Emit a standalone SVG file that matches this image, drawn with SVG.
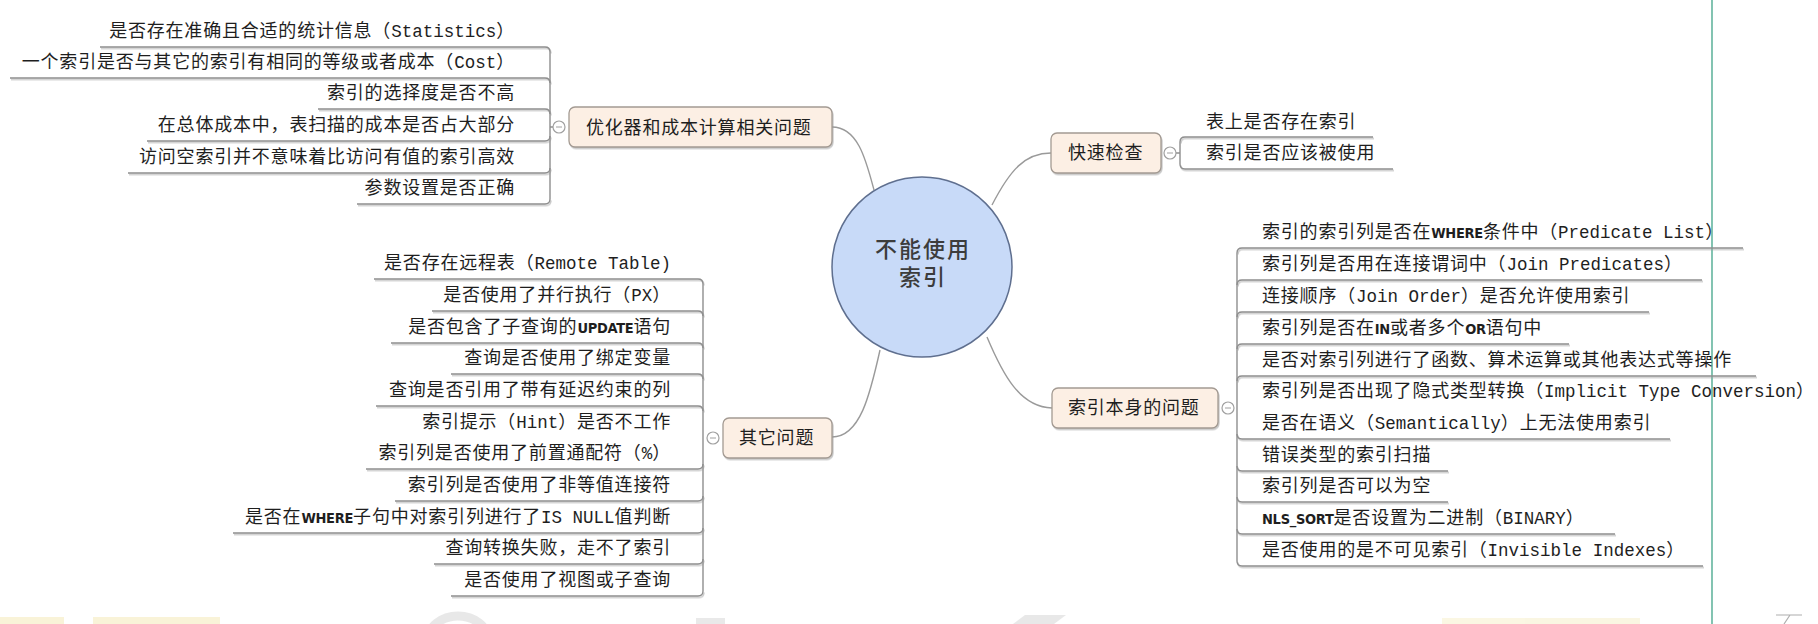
<svg xmlns="http://www.w3.org/2000/svg" width="1818" height="624" viewBox="0 0 1818 624">
<defs>
<filter id="sh" x="-5%" y="-50%" width="110%" height="300%">
<feDropShadow dx="1" dy="1.5" stdDeviation="0.7" flood-color="#9a9a9a" flood-opacity="0.55"/>
</filter>
</defs>
<style>
.t{font-family:"Noto Sans CJK SC","Noto Sans",sans-serif;font-size:18px;letter-spacing:0.8px;fill:#1e1e1e}
.m{font-family:"Liberation Mono",monospace;font-size:17.5px;letter-spacing:0}
.w{font-family:"DejaVu Sans","Liberation Sans",sans-serif;font-stretch:condensed;font-size:14.5px;font-weight:bold;letter-spacing:-0.3px}
.ul{fill:none;stroke:#8e8e8e;stroke-width:1.4;filter:url(#sh)}
.br{fill:none;stroke:#8e8e8e;stroke-width:1.4}
.box{fill:#fcefe4;stroke:#a39a92;stroke-width:1.3;filter:url(#sh)}
.col{fill:#fff;stroke:#a0a0a0;stroke-width:1.2}
.cn{fill:none;stroke:#9a9a9a;stroke-width:1.4}
.ctr{font-family:"Noto Sans CJK SC","Noto Sans",sans-serif;font-size:22px;font-weight:500;letter-spacing:2px;fill:#3c3c3c;text-anchor:middle}
</style>
<rect width="1818" height="624" fill="#fff"/>
<g id="watermark" opacity="0.8">
<rect x="0" y="617" width="64" height="7" fill="#f8f1cf"/>
<rect x="93" y="617" width="127" height="7" fill="#f8f1cf"/>
<ellipse cx="458" cy="640" rx="30" ry="24" fill="none" stroke="#e2e2e2" stroke-width="9"/>
<rect x="696" y="618" width="29" height="6" fill="#e4e4e4"/>
<polygon points="1025,615 1066,615 1054,624 1013,624" fill="#e2e2e2"/>
<rect x="1442" y="618" width="198" height="6" fill="#faf5dc"/>
<path d="M1776,615 H1802 M1790,615 L1784,624" stroke="#9a9a9a" stroke-width="1.2" fill="none"/>
</g>
<line x1="1712" y1="0" x2="1712" y2="624" stroke="#2f9c7e" stroke-width="1.2"/>

<g id="connectors">
<path class="cn" d="M832,127 C858,127 866,160 874,190"/>
<path class="cn" d="M992,205 C1010,170 1025,153 1051,153"/>
<path class="cn" d="M987,337 C1003,375 1020,407 1052,408"/>
<path class="cn" d="M880,350 C870,395 860,437 832,437"/>
</g>

<g id="center">
<circle cx="922" cy="267" r="90" fill="#c8daf8" stroke="#5f6f8f" stroke-width="1.5"/>
<text class="ctr" x="923" y="257">不能使用<tspan x="923" dy="28">索引</tspan></text>
</g>

<g id="topic-optimizer">
<rect class="box" x="569" y="107" width="263" height="40" rx="6"/>
<text class="t" x="586" y="134">优化器和成本计算相关问题</text>
<path class="br" d="M550,52 V199 M550,127 H553"/>
<circle class="col" cx="559" cy="127" r="6"/>
<line x1="556" y1="127" x2="562" y2="127" stroke="#a0a0a0" stroke-width="1"/>
</g>
<g id="opt-children">
<path class="ul" d="M100,47 H545 Q550,47 550,52"/>
<path class="ul" d="M10,78 H545 Q550,78 550,83"/>
<path class="ul" d="M318,109 H545 Q550,109 550,114"/>
<path class="ul" d="M147,141 H545 Q550,141 550,136"/>
<path class="ul" d="M128,173 H545 Q550,173 550,168"/>
<path class="ul" d="M357,204 H545 Q550,204 550,199"/>
<text class="t" x="515" y="37" text-anchor="end">是否存在准确且合适的统计信息（<tspan class="m">Statistics</tspan>）</text>
<text class="t" x="515" y="68" text-anchor="end">一个索引是否与其它的索引有相同的等级或者成本（<tspan class="m">Cost</tspan>）</text>
<text class="t" x="515" y="99" text-anchor="end">索引的选择度是否不高</text>
<text class="t" x="515" y="131" text-anchor="end">在总体成本中，表扫描的成本是否占大部分</text>
<text class="t" x="515" y="163" text-anchor="end">访问空索引并不意味着比访问有值的索引高效</text>
<text class="t" x="515" y="194" text-anchor="end">参数设置是否正确</text>
</g>

<g id="topic-other">
<rect class="box" x="723" y="418" width="109" height="40" rx="6"/>
<text class="t" x="739" y="444">其它问题</text>
<path class="br" d="M703,284 V591"/>
<circle class="col" cx="713" cy="438" r="6"/>
<line x1="710" y1="438" x2="716" y2="438" stroke="#a0a0a0" stroke-width="1"/>
</g>
<g id="other-children">
<path class="ul" d="M374,279 H698 Q703,279 703,284"/>
<path class="ul" d="M432,311 H698 Q703,311 703,316"/>
<path class="ul" d="M391,343 H698 Q703,343 703,348"/>
<path class="ul" d="M451,374 H698 Q703,374 703,379"/>
<path class="ul" d="M376,406 H698 Q703,406 703,411"/>
<path class="ul" d="M411,438 H707"/>
<path class="ul" d="M366,469 H698 Q703,469 703,464"/>
<path class="ul" d="M395,501 H698 Q703,501 703,496"/>
<path class="ul" d="M233,533 H698 Q703,533 703,528"/>
<path class="ul" d="M434,564 H698 Q703,564 703,559"/>
<path class="ul" d="M451,596 H698 Q703,596 703,591"/>
<text class="t" x="671" y="269" text-anchor="end">是否存在远程表（<tspan class="m">Remote Table)</tspan></text>
<text class="t" x="671" y="301" text-anchor="end">是否使用了并行执行（<tspan class="m">PX</tspan>）</text>
<text class="t" x="671" y="333" text-anchor="end">是否包含了子查询的<tspan class="w">UPDATE</tspan>语句</text>
<text class="t" x="671" y="364" text-anchor="end">查询是否使用了绑定变量</text>
<text class="t" x="671" y="396" text-anchor="end">查询是否引用了带有延迟约束的列</text>
<text class="t" x="671" y="428" text-anchor="end">索引提示（<tspan class="m">Hint</tspan>）是否不工作</text>
<text class="t" x="671" y="459" text-anchor="end">索引列是否使用了前置通配符（<tspan class="m">%</tspan>）</text>
<text class="t" x="671" y="491" text-anchor="end">索引列是否使用了非等值连接符</text>
<text class="t" x="671" y="523" text-anchor="end">是否在<tspan class="w">WHERE</tspan>子句中对索引列进行了<tspan class="m">IS NULL</tspan>值判断</text>
<text class="t" x="671" y="554" text-anchor="end">查询转换失败，走不了索引</text>
<text class="t" x="671" y="586" text-anchor="end">是否使用了视图或子查询</text>
</g>

<g id="topic-quick">
<rect class="box" x="1051" y="133" width="110" height="40" rx="6"/>
<text class="t" x="1068" y="159">快速检查</text>
<path class="br" d="M1180,142 V164 M1176,153 H1180"/>
<circle class="col" cx="1170" cy="153" r="6"/>
<line x1="1167" y1="153" x2="1173" y2="153" stroke="#a0a0a0" stroke-width="1"/>
</g>
<g id="quick-children">
<path class="ul" d="M1180,142 Q1180,137 1185,137 H1373"/>
<path class="ul" d="M1180,164 Q1180,169 1185,169 H1393"/>
<text class="t" x="1206" y="128">表上是否存在索引</text>
<text class="t" x="1206" y="159">索引是否应该被使用</text>
</g>

<g id="topic-index">
<rect class="box" x="1052" y="388" width="166" height="40" rx="6"/>
<text class="t" x="1068" y="414">索引本身的问题</text>
<path class="br" d="M1237,253 V561"/>
<circle class="col" cx="1228" cy="408" r="6"/>
<line x1="1225" y1="408" x2="1231" y2="408" stroke="#a0a0a0" stroke-width="1"/>
</g>
<g id="index-children">
<path class="ul" d="M1237,253 Q1237,248 1242,248 H1743"/>
<path class="ul" d="M1237,285 Q1237,280 1242,280 H1702"/>
<path class="ul" d="M1237,317 Q1237,312 1242,312 H1649"/>
<path class="ul" d="M1237,349 Q1237,344 1242,344 H1569"/>
<path class="ul" d="M1237,381 Q1237,376 1242,376 H1756"/>
<path class="ul" d="M1234,407 H1818"/>
<path class="ul" d="M1237,434 Q1237,439 1242,439 H1670"/>
<path class="ul" d="M1237,466 Q1237,471 1242,471 H1448"/>
<path class="ul" d="M1237,497 Q1237,502 1242,502 H1448"/>
<path class="ul" d="M1237,529 Q1237,534 1242,534 H1615"/>
<path class="ul" d="M1237,561 Q1237,566 1242,566 H1703"/>
<text class="t" x="1262" y="238">索引的索引列是否在<tspan class="w">WHERE</tspan>条件中（<tspan class="m">Predicate List</tspan>）</text>
<text class="t" x="1262" y="270">索引列是否用在连接谓词中（<tspan class="m">Join Predicates</tspan>）</text>
<text class="t" x="1262" y="302">连接顺序（<tspan class="m">Join Order</tspan>）是否允许使用索引</text>
<text class="t" x="1262" y="334">索引列是否在<tspan class="w">IN</tspan>或者多个<tspan class="w">OR</tspan>语句中</text>
<text class="t" x="1262" y="366">是否对索引列进行了函数、算术运算或其他表达式等操作</text>
<text class="t" x="1262" y="397">索引列是否出现了隐式类型转换（<tspan class="m">Implicit Type Conversion</tspan>）</text>
<text class="t" x="1262" y="429">是否在语义（<tspan class="m">Semantically</tspan>）上无法使用索引</text>
<text class="t" x="1262" y="461">错误类型的索引扫描</text>
<text class="t" x="1262" y="492">索引列是否可以为空</text>
<text class="t" x="1262" y="524"><tspan class="w">NLS_SORT</tspan>是否设置为二进制（<tspan class="m">BINARY</tspan>）</text>
<text class="t" x="1262" y="556">是否使用的是不可见索引（<tspan class="m">Invisible Indexes</tspan>）</text>
</g>
</svg>
